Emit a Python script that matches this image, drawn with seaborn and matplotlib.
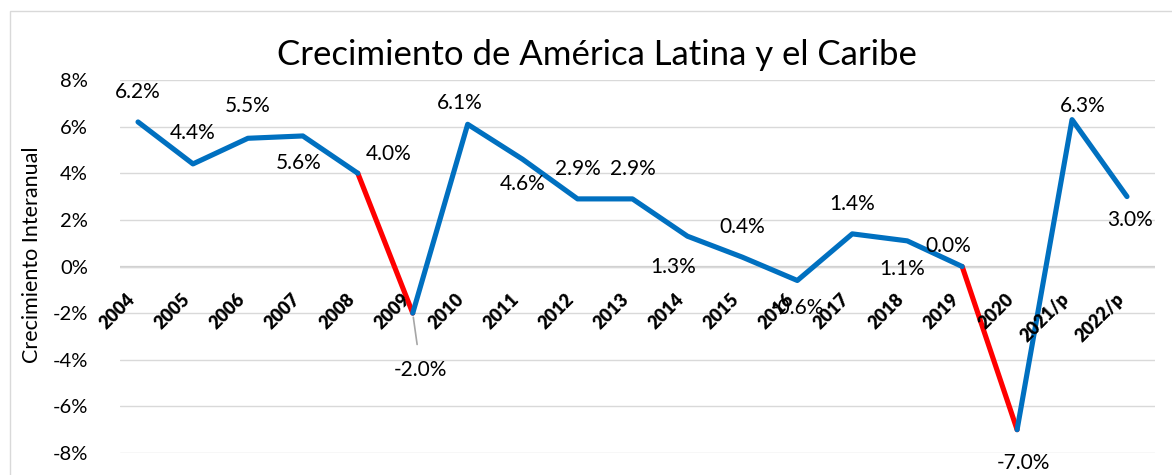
import matplotlib
matplotlib.use('Agg')
import matplotlib.pyplot as plt
import seaborn as sns
import pandas as pd
from matplotlib.patches import Rectangle
from matplotlib.ticker import FixedLocator, FixedFormatter

# ---------------- data ----------------
years = ['2004', '2005', '2006', '2007', '2008', '2009', '2010', '2011', '2012',
         '2013', '2014', '2015', '2016', '2017', '2018', '2019', '2020',
         '2021/p', '2022/p']
growth = [6.2, 4.4, 5.5, 5.6, 4.0, -2.0, 6.1, 4.6, 2.9, 2.9, 1.3, 0.4, -0.6,
          1.4, 1.1, 0.0, -7.0, 6.3, 3.0]
red_segment_starts = [4, 15]          # 2008->2009 and 2019->2020 drawn in red
ytick_values = [-8, -6, -4, -2, 0, 2, 4, 6, 8]
ytick_labels = ['-8%', '-6%', '-4%', '-2%', '0%', '2%', '4%', '6%', '8%']
title_text = 'Crecimiento de América Latina y el Caribe'
ylabel_text = 'Crecimiento Interanual'

# ---------------- style / layout ----------------
label_offsets_px = [(0, 30), (0, 31), (0, 32), (-4, -27), (31, 19), (8, -57),
                    (-8, 21), (0, -25), (0, 30), (0, 30), (-14, -31), (0, 30),
                    (0, -28), (0, 30), (-5, -28), (-14, 21), (6, -33), (11, 14),
                    (3, -23)]
BLUE = '#0070C0'
RED = '#FF0000'
W, H = 1172, 475

sns.set_theme(style='white')
plt.rcParams['font.family'] = ['Lato', 'DejaVu Sans']

# build runs of equal colour
rows = []
run_id = 0
prev_color = None
for i in range(len(growth) - 1):
    color = 'red' if i in red_segment_starts else 'blue'
    if color != prev_color:
        run_id += 1
        rows.append({'x': i, 'y': growth[i], 'run': run_id, 'color': color})
        prev_color = color
    rows.append({'x': i + 1, 'y': growth[i + 1], 'run': run_id, 'color': color})
df = pd.DataFrame(rows)

fig = plt.figure(figsize=(W / 100, H / 100), dpi=100)
ax = fig.add_axes([120 / W, 1 - 453 / H, (1155 - 120) / W, (453 - 80) / H])

sns.lineplot(data=df, x='x', y='y', hue='color', units='run', estimator=None,
             hue_order=['red', 'blue'], palette={'red': RED, 'blue': BLUE},
             linewidth=3.7, legend=False, sort=False, ax=ax,
             solid_joinstyle='round', solid_capstyle='round')

ax.set_xlim(-0.328, 18.51)
ax.set_ylim(-8, 8)
ax.yaxis.set_major_locator(FixedLocator(ytick_values))
ax.yaxis.set_major_formatter(FixedFormatter(ytick_labels))
ax.set_xticks([])
ax.tick_params(axis='y', length=0, pad=23, labelsize=14.5, labelcolor='#000000')
ax.yaxis.grid(True, color='#D9D9D9', linewidth=1)
ax.axhline(0, color='#D0D0D0', linewidth=1.6, zorder=0.5)
for s in ax.spines.values():
    s.set_visible(False)
ax.set_xlabel('')
ax.set_ylabel(ylabel_text, fontsize=15.5, color='#000000')
ax.yaxis.set_label_coords(-0.0754, 0.531)

# category labels
for i, yr in enumerate(years):
    ax.annotate(yr, xy=(i, 0), xytext=(0, -24 * 0.72), textcoords='offset points',
                ha='right', va='top', rotation=45, fontsize=13,
                fontweight='heavy', color='#000000')

# data labels
for i, v in enumerate(growth):
    dx, dy = label_offsets_px[i]
    kw = {}
    if i == 5:
        kw['arrowprops'] = dict(arrowstyle='-', color='#A6A6A6', lw=1.2,
                                shrinkA=9, shrinkB=3)
    ax.annotate(f'{v:.1f}%', xy=(i, v), xytext=(dx * 0.72, dy * 0.72),
                textcoords='offset points', ha='center', va='center',
                fontsize=15, color='#000000', **kw)

fig.text(597 / W, 1 - 65 / H, title_text, ha='center', va='baseline',
         fontsize=25, color='#000000')

fig.patches.append(Rectangle((10 / W, -0.1), 1.2, 1 - 11 / H + 0.1,
                             transform=fig.transFigure, fill=False,
                             edgecolor='#D9D9D9', linewidth=1))

fig.savefig('out.png', dpi=100)
